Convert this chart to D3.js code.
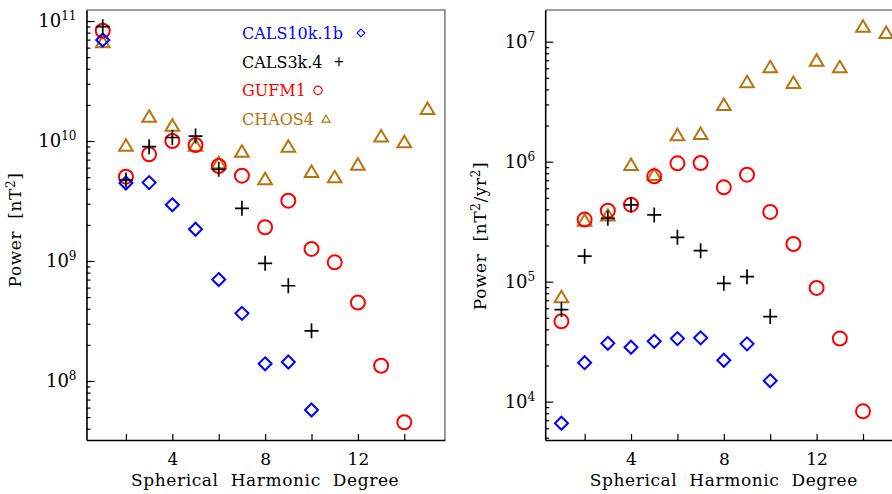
<!DOCTYPE html>
<html>
<head>
<meta charset="utf-8">
<script src="https://cdn.jsdelivr.net/npm/d3@7"></script>
<style>
  body { margin: 0; background: #fff; }
  svg { display: block; }
  text { font-family: "DejaVu Serif", "Liberation Serif", serif; }
</style>
</head>
<body>
<script>
var width = 892,
    height = 494;

// degrees 1..15
var degrees = d3.range(1, 16);
var xTickLabels = [4, 8, 12];
var xTicks = [2, 4, 6, 8, 10, 12, 14];

// main field power [nT^2]
var calsk10Field = [6.95e10, 4.47e9, 4.5e9, 2.94e9, 1.84e9, 7.0e8, 3.66e8, 1.39e8, 1.44e8, 5.73e7];
var cals3kField  = [8.97e10, 4.73e9, 8.97e9, 1.07e10, 1.1e10, 5.81e9, 2.75e9, 9.57e8, 6.22e8, 2.62e8];
var gufmField    = [8.3e10, 5.04e9, 7.74e9, 1.0e10, 9.26e9, 6.19e9, 5.14e9, 1.91e9, 3.18e9, 1.26e9, 9.75e8, 4.5e8, 1.34e8, 4.53e7];
var chaosField   = [6.65e10, 9.14e9, 1.59e10, 1.34e10, 9.15e9, 6.52e9, 8.15e9, 4.8e9, 8.97e9, 5.52e9, 4.98e9, 6.34e9, 1.09e10, 9.75e9, 1.85e10];

// secular variation power [nT^2/yr^2]
var calsk10SV = [6.6e3, 2.11e4, 3.06e4, 2.84e4, 3.18e4, 3.35e4, 3.4e4, 2.21e4, 3.03e4, 1.49e4];
var cals3kSV  = [5.84e4, 1.63e5, 3.37e5, 4.36e5, 3.6e5, 2.34e5, 1.81e5, 9.68e4, 1.1e5, 5.11e4];
var gufmSV    = [4.67e4, 3.29e5, 3.9e5, 4.38e5, 7.54e5, 9.68e5, 9.75e5, 6.11e5, 7.79e5, 3.81e5, 2.06e5, 8.86e4, 3.35e4, 8.3e3];
var chaosSV   = [7.4e4, 3.22e5, 3.55e5, 9.39e5, 7.74e5, 1.66e6, 1.7e6, 2.97e6, 4.58e6, 6.11e6, 4.53e6, 6.95e6, 6.11e6, 1.33e7, 1.18e7];

var models = ["CALS10k.1b", "CALS3k.4", "GUFM1", "CHAOS4"];
var colors = ["#0000ff", "#000000", "#ff0000", "#b8730c"];
var shapes = ["diamond", "plus", "circle", "triangle"];

var svg = d3.select("body").append("svg")
    .attr("width", width)
    .attr("height", height);

// marker path around (0,0); s = scale factor
function markerPath(shape, s) {
  if (shape == "diamond") return "M0," + (-6.5*s) + "L" + (6.5*s) + ",0L0," + (6.5*s) + "L" + (-6.5*s) + ",0Z";
  if (shape == "plus") return "M" + (-7*s) + ",0H" + (7*s) + "M0," + (-7.5*s) + "V" + (7.5*s);
  if (shape == "circle") return d3.arc()({innerRadius: 0, outerRadius: 7*s, startAngle: 0, endAngle: 2*Math.PI});
  if (shape == "triangle") return "M0," + (-6.5*s) + "L" + (6.8*s) + "," + (5*s) + "L" + (-6.8*s) + "," + (5*s) + "Z";
}

function drawPanel(opts) {
  var x = d3.scaleLinear().domain([0.3, 15.75]).range([opts.left, opts.left + 358.4]);
  var y = d3.scaleLog().domain(opts.yDomain).range([440, 10]);

  var g = svg.append("g");

  // top and right frame (grey)
  g.append("path")
      .attr("d", "M" + x.range()[0] + "," + y.range()[1] + "H" + x.range()[1] + "V" + y.range()[0])
      .attr("fill", "none")
      .attr("stroke", "#808080")
      .attr("stroke-width", 1.6);

  // x axis, ticks point inwards
  var xAxis = g.append("g")
      .attr("transform", "translate(0,440)")
      .call(d3.axisBottom(x).tickValues(xTicks).tickSize(-6).tickSizeOuter(0)
        .tickFormat(function(d) { return xTickLabels.indexOf(d) >= 0 ? d : ""; }));
  xAxis.select(".domain").attr("stroke-width", 1.6);
  xAxis.selectAll(".tick line").attr("stroke-width", 1.2);
  xAxis.selectAll(".tick text")
      .attr("y", 13)
      .attr("font-size", 17)
      .attr("font-family", "DejaVu Serif");

  // y axis minor ticks
  var lo = Math.ceil(Math.log10(opts.yDomain[0])), hi = Math.floor(Math.log10(opts.yDomain[1]));
  var minor = [];
  for (var e = lo - 1; e <= hi; e++) {
    for (var k = 2; k <= 9; k++) {
      var v = k * Math.pow(10, e);
      if (v >= opts.yDomain[0] && v <= opts.yDomain[1]) minor.push(v);
    }
  }
  var majors = d3.range(lo, hi + 1).map(function(e) { return Math.pow(10, e); });

  var yMinor = g.append("g")
      .attr("transform", "translate(" + x.range()[0] + ",0)")
      .call(d3.axisLeft(y).tickValues(minor).tickSize(-4).tickSizeOuter(0).tickFormat(""));
  yMinor.select(".domain").attr("stroke-width", 1.6);
  yMinor.selectAll(".tick line").attr("stroke-width", 1.2);

  var yMajor = g.append("g")
      .attr("transform", "translate(" + x.range()[0] + ",0)")
      .call(d3.axisLeft(y).tickValues(majors).tickSize(-8).tickSizeOuter(0).tickFormat(""));
  yMajor.select(".domain").remove();
  yMajor.selectAll(".tick line").attr("stroke-width", 1.2);

  // decade labels as 10^n
  var lab = g.selectAll(".ylab")
      .data(majors)
    .enter().append("text")
      .attr("class", "ylab")
      .attr("x", x.range()[0] - 10)
      .attr("y", function(d) { return y(d) + 6; })
      .attr("text-anchor", "end")
      .attr("font-size", 18)
      .attr("fill", "#000");
  lab.append("tspan").text("10");
  lab.append("tspan")
      .attr("dy", -7)
      .attr("font-size", 12)
      .text(function(d) { return Math.round(Math.log10(d)); });

  // x axis title
  g.append("text")
      .attr("x", x(8))
      .attr("y", 486)
      .attr("text-anchor", "middle")
      .attr("font-size", 17)
      .attr("letter-spacing", 0.6)
      .attr("word-spacing", 6)
      .text("Spherical Harmonic Degree");

  // y axis title
  var yt = g.append("text")
      .attr("transform", "translate(" + opts.titleX + "," + opts.titleY + ") rotate(-90)")
      .attr("text-anchor", "middle")
      .attr("font-size", 17)
      .attr("letter-spacing", 0.6)
      .style("white-space", "pre");
  yt.append("tspan").text("Power  [nT");
  yt.append("tspan").attr("dy", -6).attr("font-size", 12).text("2");
  if (opts.perYear) {
    yt.append("tspan").attr("dy", 6).text("/yr");
    yt.append("tspan").attr("dy", -6).attr("font-size", 12).text("2");
  }
  yt.append("tspan").attr("dy", 6).text("]");

  // markers: draw order so that crosses sit on top
  var order = [3, 2, 0, 1];
  order.forEach(function(i) {
    var vals = opts.series[i];
    g.selectAll(".m" + i)
        .data(vals)
      .enter().append("path")
        .attr("class", "m" + i)
        .attr("transform", function(d, j) { return "translate(" + x(degrees[j]) + "," + y(d) + ")"; })
        .attr("d", markerPath(shapes[i], 1))
        .attr("fill", "none")
        .attr("stroke", colors[i])
        .attr("stroke-width", shapes[i] == "plus" ? 1.7 : 2);
  });

  return g;
}

drawPanel({
  left: 86.5,
  yDomain: [Math.pow(10, 7.508), Math.pow(10, 11.092)],
  series: [calsk10Field, cals3kField, gufmField, chaosField],
  titleX: 21, titleY: 230
});

drawPanel({
  left: 545.2,
  yDomain: [Math.pow(10, 3.68), Math.pow(10, 7.264)],
  series: [calsk10SV, cals3kSV, gufmSV, chaosSV],
  titleX: 486, titleY: 236,
  perYear: true
});

// legend on the left panel
var legend = svg.selectAll(".legend")
    .data(models)
  .enter().append("g")
    .attr("class", "legend")
    .attr("transform", function(d, i) { return "translate(242," + (33 + i * 28.7) + ")"; });

legend.append("text")
    .attr("y", 6)
    .attr("font-size", 16)
    .attr("fill", function(d, i) { return colors[i]; })
    .text(function(d) { return d; });

var legendMarkX = [361, 339, 318, 326];
legend.append("path")
    .attr("transform", function(d, i) { return "translate(" + (legendMarkX[i] - 242) + ",0)"; })
    .attr("d", function(d, i) { return markerPath(shapes[i], 0.6); })
    .attr("fill", "none")
    .attr("stroke", function(d, i) { return colors[i]; })
    .attr("stroke-width", 1.2);
</script>
</body>
</html>
